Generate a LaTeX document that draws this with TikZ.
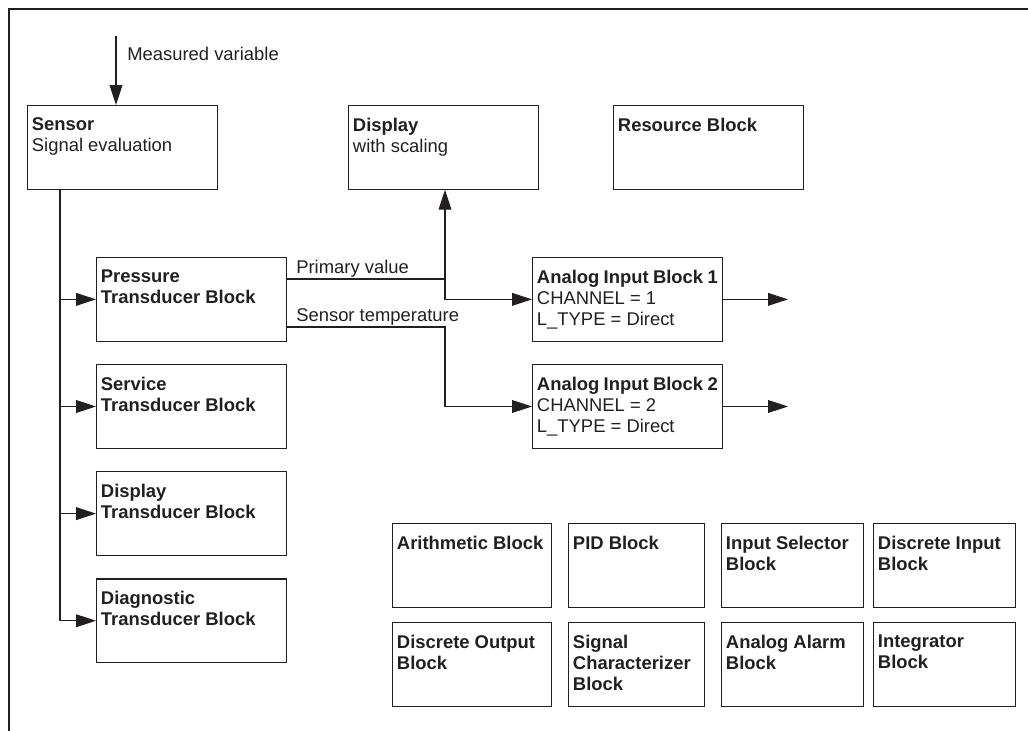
\documentclass[tikz,border=0pt]{standalone}
\usepackage{fontspec}
\setmainfont{Liberation Sans}
\usetikzlibrary{positioning,arrows.meta}
\definecolor{ink}{HTML}{231F20}
\newcommand{\blktext}[2]{\parbox[t][14.7mm][t]{#1}{\raggedright #2}}
\tikzset{
  blk/.style={draw=ink, line width=0.8pt, anchor=north west, inner xsep=1.1mm, inner ysep=3.1mm, font=\fontsize{13.1}{15}\selectfont, text=ink},
  sig/.style={-{Triangle[length=5mm, width=3.2mm]}, draw=ink, line width=0.8pt},
  lbl/.style={anchor=base west, inner sep=0pt, font=\fontsize{13.1}{15}\selectfont, text=ink},
}

\begin{document}
\begin{tikzpicture}[x=0.25mm, y=-0.25mm, node distance=5.6mm]
  \useasboundingbox (0,0) rectangle (1028,731);
  \draw[ink, line width=0.9pt] (9,731) -- (9,9) -- (1028,9);

  % top row
  \node[blk] (sensor) at (27,105) {\blktext{45.2mm}{\textbf{Sensor}\\Signal evaluation}};
  \node[blk] (display) at (348,105) {\blktext{45.2mm}{\textbf{Display}\\with scaling}};
  \node[blk] (resource) at (613,105) {\blktext{45.2mm}{\textbf{Resource Block}}};

  % transducer blocks
  \node[blk] (pressure) at (96,257) {\blktext{45.2mm}{\textbf{Pressure\\Transducer Block}}};
  \node[blk, below=of pressure] (service) {\blktext{45.2mm}{\textbf{Service\\Transducer Block}}};
  \node[blk, below=of service] (disptb) {\blktext{45.2mm}{\textbf{Display\\Transducer Block}}};
  \node[blk, below=of disptb] (diag) {\blktext{45.2mm}{\textbf{Diagnostic\\Transducer Block}}};

  % analog inputs
  \node[blk] (ai1) at (532,257) {\blktext{45.2mm}{\textbf{Analog~Input~Block~1}\\CHANNEL = 1\\L\_TYPE = Direct}};
  \node[blk, below=of ai1] (ai2) {\blktext{45.2mm}{\textbf{Analog~Input~Block~2}\\CHANNEL = 2\\L\_TYPE = Direct}};

  % other function blocks
  \node[blk] (arith) at (392,523) {\blktext{37.55mm}{\textbf{Arithmetic~Block}}};
  \node[blk] (pid) at (568,523) {\blktext{31.8mm}{\textbf{PID Block}}};
  \node[blk] (insel) at (721,523) {\blktext{33.3mm}{\textbf{Input~Selector\\Block}}};
  \node[blk] (discin) at (873,523) {\blktext{33.3mm}{\textbf{Discrete~Input\\Block}}};
  \node[blk] (discout) at (392,622) {\blktext{37.55mm}{\textbf{Discrete~Output\\Block}}};
  \node[blk] (sigchar) at (568,622) {\blktext{31.8mm}{\textbf{Signal\\Characterizer\\Block}}};
  \node[blk] (alarm) at (721,622) {\blktext{33.3mm}{\textbf{Analog~Alarm\\Block}}};
  \node[blk] (integ) at (873,622) {\blktext{33.3mm}{\textbf{Integrator\\Block}}};

  % signals
  \coordinate (mv) at (116,36);
  \coordinate (trunk) at (60,0);
  \coordinate (pv) at (445,279);
  \coordinate (st) at (445,327);
  \coordinate (out) at (788,0);
  \node[lbl] (mvlabel) at (127,60) {Measured variable};
  \node[lbl] (pvlabel) at (296,273) {Primary value};
  \node[lbl] (stlabel) at (296,321) {Sensor temperature};

  \draw[sig] (mv) -- (mv |- sensor.north);
  \draw[sig] (sensor.south -| trunk) |- (diag.west);
  \draw[sig] (trunk |- pressure.west) -- (pressure.west);
  \draw[sig] (trunk |- service.west) -- (service.west);
  \draw[sig] (trunk |- disptb.west) -- (disptb.west);
  \draw[sig] (pressure.east |- pv) -- (pv) |- (ai1.west);
  \draw[sig] (pv) -- (pv |- display.south);
  \draw[sig] (pressure.east |- st) -- (st) |- (ai2.west);
  \draw[sig] (ai1.east) -- (ai1.east -| out);
  \draw[sig] (ai2.east) -- (ai2.east -| out);
\end{tikzpicture}
\end{document}
